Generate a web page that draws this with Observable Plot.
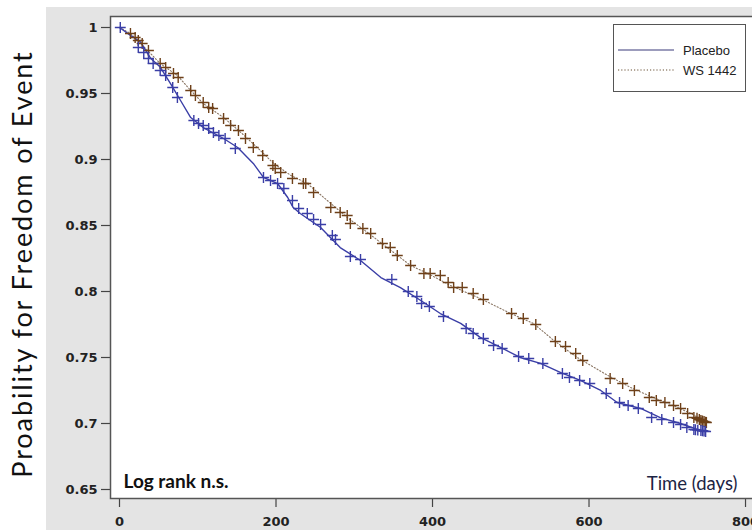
<!DOCTYPE html>
<html><head><meta charset="utf-8">
<script src="https://cdn.jsdelivr.net/npm/d3@7"></script>
<script src="https://cdn.jsdelivr.net/npm/@observablehq/plot@0.6"></script>
<style>
html,body{margin:0;padding:0;background:#fff;width:752px;height:530px;overflow:hidden;}
#wrap{position:relative;width:752px;height:530px;}
#bg{position:absolute;left:46px;top:7px;right:0;bottom:0;background:#e4e4e4;}
#chart{position:absolute;left:0;top:0;}
#ylab{position:absolute;left:21px;top:264px;transform:translate(-50%,-50%) rotate(-90deg);white-space:nowrap;font-family:Lato,"Open Sans",sans-serif;font-size:27px;letter-spacing:1.9px;color:#111;}
#legend{position:absolute;left:613px;top:24px;width:131px;height:66px;border:1.5px solid #555;background:#fff;font-family:"Liberation Sans",Arial,sans-serif;font-size:13px;color:#222;}
.row{position:absolute;left:4px;height:16px;display:flex;align-items:center;}
.row svg{margin-right:9px;}
</style></head><body>
<div id="wrap"><div id="bg"></div><div id="chart"></div><div id="ylab">Proability for Freedom of Event</div><div id="legend"></div></div>
<script>
// Series names
const seriesNames = ["Placebo", "WS 1442"];
const yTicks = [0.65, 0.7, 0.75, 0.8, 0.85, 0.9, 0.95, 1];
const xTicks = [0, 200, 400, 600, 800];

// Placebo survival curve (days, probability)
const placeboDays = [0,14,27,40,52,65,78,91,107,133,151,171,184,202,215,222,231,257,282,308,334,359,385,410,436,461,487,512,538,564,589,615,636,666,691,717,742,749];
const placeboSurv = [1.0,0.994,0.989,0.9765,0.970,0.9576,0.9447,0.9318,0.9242,0.9159,0.9091,0.8970,0.8864,0.8818,0.8712,0.8636,0.8591,0.8485,0.8333,0.8235,0.8106,0.8030,0.7932,0.7833,0.7758,0.7652,0.7576,0.7500,0.7455,0.7386,0.7326,0.7250,0.7159,0.7114,0.7045,0.7000,0.6947,0.694];

// WS 1442 survival curve
const wsDays = [0,14,36,52,74,91,107,133,155,176,197,219,240,270,291,317,342,372,394,423,461,500,529,555,585,624,653,682,708,730,746,750];
const wsSurv = [1.0,0.9955,0.9826,0.9727,0.9636,0.9523,0.9424,0.9318,0.9205,0.9091,0.8970,0.8879,0.8818,0.8667,0.8561,0.8447,0.8333,0.8197,0.8136,0.8045,0.7947,0.7833,0.7758,0.7629,0.7500,0.7364,0.7273,0.7197,0.7136,0.7076,0.7023,0.702];

// Censoring marks, Placebo
const placeboCensDays = [1,24,31,37,43,52,59,68,74,95,101,107,114,120,127,135,148,184,193,202,210,221,229,240,248,257,272,276,295,308,348,369,380,386,396,414,443,452,465,478,489,510,523,541,566,575,588,601,622,639,650,663,680,693,708,717,725,734,736,739,743,745,747,749];
const placeboCensSurv = [1.0,0.9848,0.9811,0.9765,0.9727,0.9674,0.9636,0.9545,0.9470,0.9295,0.9273,0.9258,0.9235,0.9205,0.9182,0.9159,0.9083,0.8864,0.8841,0.8818,0.8780,0.8689,0.8629,0.8591,0.8545,0.8508,0.8424,0.8394,0.8265,0.8242,0.8091,0.8000,0.7962,0.7909,0.7886,0.7811,0.7720,0.7682,0.7644,0.7591,0.7568,0.7508,0.7492,0.7455,0.7379,0.7348,0.7326,0.7303,0.7227,0.7159,0.7136,0.7114,0.7045,0.7030,0.7008,0.6992,0.6970,0.6955,0.6953,0.6950,0.6947,0.6945,0.6942,0.6939];

// Censoring marks, WS 1442
const wsCensDays = [14,20,24,29,37,52,59,69,75,91,97,107,114,119,133,142,152,161,171,183,196,199,206,221,235,238,248,270,282,291,295,311,321,336,346,355,372,389,397,410,420,427,438,452,465,501,516,532,557,570,583,592,627,643,658,677,686,697,708,717,726,734,738,741,743,745,747,749,750];
const wsCensSurv = [0.9955,0.9924,0.9902,0.9879,0.9826,0.9727,0.9697,0.9652,0.9621,0.9523,0.9485,0.9432,0.9394,0.9386,0.9311,0.9258,0.9220,0.9159,0.9091,0.9030,0.8955,0.8932,0.8902,0.8856,0.8818,0.8818,0.8750,0.8636,0.8598,0.8576,0.8515,0.8477,0.8439,0.8364,0.8333,0.8273,0.8197,0.8136,0.8136,0.8121,0.8068,0.8030,0.8030,0.7985,0.7939,0.7833,0.7795,0.7750,0.7621,0.7583,0.7530,0.7477,0.7341,0.7303,0.7250,0.7197,0.7174,0.7159,0.7136,0.7114,0.7076,0.7045,0.7040,0.7030,0.7023,0.7020,0.7015,0.7010,0.7008];

const blue = "#3a3ea6";
const brown = "#6e4019";

const zip = (a, b) => a.map((d, i) => ({day: d, surv: b[i]}));
const placebo = zip(placeboDays, placeboSurv);
const ws = zip(wsDays, wsSurv);
const placeboCens = zip(placeboCensDays, placeboCensSurv);
const wsCens = zip(wsCensDays, wsCensSurv);

const axisFont = {fontFamily: "'DejaVu Sans', sans-serif", fontWeight: "bold", fontSize: 13};

const plot = Plot.plot({
  width: 752, height: 530,
  marginLeft: 110, marginRight: -10, marginTop: 16, marginBottom: 32,
  style: {background: "transparent", color: "#222", overflow: "visible"},
  x: {domain: [-11.5, 821.7]},
  y: {domain: [0.64318, 1.00833]},
  marks: [
    Plot.frame({fill: "white", stroke: "none"}),
    Plot.axisY(yTicks, {tickSize: 9, tickPadding: 4, tickFormat: d => String(d), label: null, stroke: "#444", strokeWidth: 1.2, ...axisFont}),
    Plot.axisX(xTicks, {tickSize: 9, tickPadding: 9, tickFormat: d => String(d), label: null, stroke: "#444", strokeWidth: 1.2, ...axisFont}),
    Plot.line(ws, {x: "day", y: "surv", stroke: "#8a7664", strokeWidth: 1.1, strokeDasharray: "1.2,2"}),
    Plot.line(placebo, {x: "day", y: "surv", stroke: blue, strokeWidth: 1.4}),
    Plot.dot(wsCens, {x: "day", y: "surv", symbol: "plus", r: 3.6, stroke: brown, strokeWidth: 1.4}),
    Plot.dot(placeboCens, {x: "day", y: "surv", symbol: "plus", r: 3.6, stroke: blue, strokeWidth: 1.4}),
    Plot.text(["Log rank n.s."], {text: d => d, frameAnchor: "bottom-left", dx: 13, dy: -11, textAnchor: "start", lineAnchor: "bottom", fontFamily: "Lato, sans-serif", fontWeight: "bold", fontSize: 19, fill: "#111"}),
    Plot.text(["Time (days)"], {text: d => d, frameAnchor: "bottom-right", dx: -25, dy: -9, textAnchor: "end", lineAnchor: "bottom", fontFamily: "Lato, sans-serif", fontSize: 18.5, fill: "#1c2444"}),
    Plot.frame({stroke: "#555", strokeWidth: 1.5})
  ]
});
document.getElementById("chart").appendChild(plot);

// Legend built from series names
const legend = document.getElementById("legend");
const styles = [{stroke: "#7b7ba6", dash: null}, {stroke: "#9a8a78", dash: "1.2,2"}];
seriesNames.forEach((name, i) => {
  const row = document.createElement("div");
  row.className = "row";
  row.style.top = (17 + i * 20) + "px";
  const s = styles[i];
  row.innerHTML = `<svg width="56" height="4"><line x1="0" x2="56" y1="2" y2="2" stroke="${s.stroke}" stroke-width="1.5" ${s.dash ? `stroke-dasharray="${s.dash}"` : ""}/></svg><span>${name}</span>`;
  legend.appendChild(row);
});
</script>
</body></html>
